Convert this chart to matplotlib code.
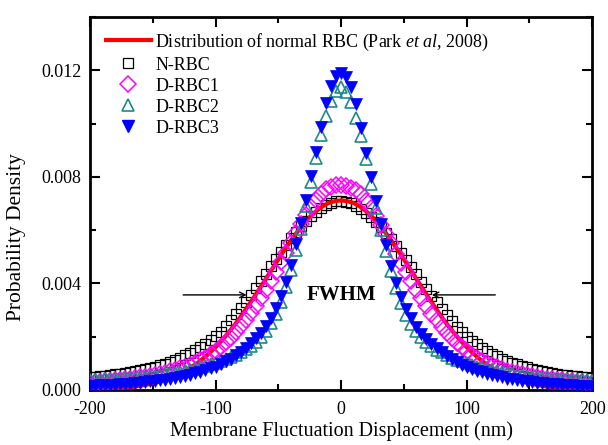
import numpy as np
import matplotlib.pyplot as plt
from matplotlib.ticker import MultipleLocator, FormatStrFormatter
from matplotlib.lines import Line2D

plt.rcParams['font.family'] = ['Liberation Serif', 'DejaVu Serif']
plt.rcParams['mathtext.fontset'] = 'custom'
plt.rcParams['mathtext.rm'] = 'Liberation Serif'
plt.rcParams['mathtext.it'] = 'Liberation Serif:italic'
plt.rcParams['axes.unicode_minus'] = False

# measured points, 4 nm bins from -200 to 200
x_pts = np.arange(-200, 201, 4)

n_rbc = [0.00048, 0.00050, 0.00052, 0.00054, 0.00056, 0.00059, 0.00061, 0.00064, 0.00067, 0.00070,
         0.00074, 0.00078, 0.00083, 0.00088, 0.00093, 0.00099, 0.00106, 0.00113, 0.00121, 0.00130,
         0.00140, 0.00151, 0.00162, 0.00174, 0.00187, 0.00201, 0.00219, 0.00241, 0.00263, 0.00285,
         0.00308, 0.00332, 0.00357, 0.00383, 0.00410, 0.00437, 0.00464, 0.00491, 0.00518, 0.00544,
         0.00569, 0.00592, 0.00614, 0.00634, 0.00653, 0.00669, 0.00684, 0.00695, 0.00703, 0.00708,
         0.00710,
         0.00707, 0.00701, 0.00692, 0.00681, 0.00666, 0.00650, 0.00631, 0.00611, 0.00589, 0.00566,
         0.00541, 0.00515, 0.00488, 0.00461, 0.00434, 0.00407, 0.00380, 0.00354, 0.00329, 0.00305,
         0.00282, 0.00260, 0.00238, 0.00217, 0.00199, 0.00184, 0.00171, 0.00159, 0.00148, 0.00137,
         0.00127, 0.00118, 0.00110, 0.00103, 0.00096, 0.00090, 0.00085, 0.00080, 0.00075, 0.00071,
         0.00067, 0.00064, 0.00061, 0.00058, 0.00056, 0.00053, 0.00051, 0.00049, 0.00047, 0.00045]

d_rbc1 = [0.00028, 0.00029, 0.00031, 0.00032, 0.00034, 0.00036, 0.00038, 0.00040, 0.00042, 0.00044,
          0.00047, 0.00050, 0.00053, 0.00057, 0.00061, 0.00065, 0.00070, 0.00075, 0.00081, 0.00088,
          0.00095, 0.00103, 0.00112, 0.00122, 0.00134, 0.00147, 0.00162, 0.00179, 0.00197, 0.00217,
          0.00239, 0.00263, 0.00289, 0.00317, 0.00346, 0.00377, 0.00410, 0.00444, 0.00479, 0.00514,
          0.00553, 0.00588, 0.00623, 0.00656, 0.00686, 0.00713, 0.00736, 0.00753, 0.00763, 0.00768,
          0.00771,
          0.00767, 0.00759, 0.00751, 0.00734, 0.00711, 0.00684, 0.00654, 0.00621, 0.00586, 0.00551,
          0.00512, 0.00477, 0.00442, 0.00408, 0.00375, 0.00344, 0.00315, 0.00287, 0.00261, 0.00237,
          0.00215, 0.00195, 0.00177, 0.00160, 0.00145, 0.00132, 0.00120, 0.00110, 0.00101, 0.00093,
          0.00086, 0.00079, 0.00073, 0.00068, 0.00063, 0.00059, 0.00055, 0.00051, 0.00048, 0.00045,
          0.00042, 0.00040, 0.00038, 0.00036, 0.00034, 0.00032, 0.00031, 0.00029, 0.00028, 0.00027]

d_rbc2 = [0.00037, 0.00038, 0.00039, 0.00040, 0.00041, 0.00042, 0.00043, 0.00044, 0.00045, 0.00046,
          0.00048, 0.00050, 0.00052, 0.00054, 0.00056, 0.00059, 0.00062, 0.00065, 0.00068, 0.00072,
          0.00076, 0.00080, 0.00085, 0.00090, 0.00096, 0.00102, 0.00109, 0.00116, 0.00124, 0.00133,
          0.00143, 0.00154, 0.00167, 0.00182, 0.00200, 0.00223, 0.00251, 0.00287, 0.00332, 0.00387,
          0.00452, 0.00525, 0.00605, 0.00690, 0.00780, 0.00872, 0.00957, 0.01028, 0.01085, 0.01122,
          0.01138,
          0.01118, 0.01080, 0.01022, 0.00952, 0.00867, 0.00775, 0.00685, 0.00600, 0.00520, 0.00448,
          0.00383, 0.00328, 0.00283, 0.00248, 0.00220, 0.00198, 0.00180, 0.00165, 0.00152, 0.00141,
          0.00131, 0.00122, 0.00114, 0.00107, 0.00100, 0.00094, 0.00088, 0.00083, 0.00078, 0.00074,
          0.00070, 0.00066, 0.00063, 0.00060, 0.00057, 0.00055, 0.00052, 0.00050, 0.00048, 0.00046,
          0.00045, 0.00043, 0.00042, 0.00041, 0.00040, 0.00039, 0.00038, 0.00037, 0.00036, 0.00035]

d_rbc3 = [0.00015, 0.00016, 0.00017, 0.00018, 0.00019, 0.00020, 0.00021, 0.00022, 0.00024, 0.00026,
          0.00028, 0.00030, 0.00032, 0.00034, 0.00036, 0.00039, 0.00042, 0.00045, 0.00049, 0.00053,
          0.00057, 0.00062, 0.00068, 0.00074, 0.00081, 0.00088, 0.00097, 0.00107, 0.00118, 0.00130,
          0.00144, 0.00159, 0.00176, 0.00194, 0.00214, 0.00240, 0.00271, 0.00308, 0.00352, 0.00405,
          0.00470, 0.00547, 0.00627, 0.00712, 0.00802, 0.00895, 0.00987, 0.01077, 0.01142, 0.01180,
          0.01190,
          0.01176, 0.01138, 0.01073, 0.00983, 0.00891, 0.00798, 0.00708, 0.00623, 0.00543, 0.00466,
          0.00401, 0.00348, 0.00305, 0.00269, 0.00238, 0.00212, 0.00192, 0.00174, 0.00157, 0.00142,
          0.00128, 0.00116, 0.00105, 0.00095, 0.00086, 0.00079, 0.00072, 0.00066, 0.00060, 0.00055,
          0.00051, 0.00047, 0.00043, 0.00040, 0.00037, 0.00034, 0.00032, 0.00030, 0.00028, 0.00026,
          0.00024, 0.00022, 0.00021, 0.00019, 0.00018, 0.00017, 0.00016, 0.00015, 0.00014, 0.00013]

# Park et al 2008 normal RBC distribution, 5 nm steps
x_park = np.arange(-200, 201, 5)
park = [0.00002, 0.00002, 0.00003, 0.00004, 0.00006, 0.00007, 0.00010, 0.00012, 0.00016, 0.00020,
        0.00025, 0.00031, 0.00039, 0.00047, 0.00058, 0.00070, 0.00084, 0.00099, 0.00118, 0.00138,
        0.00161, 0.00186, 0.00214, 0.00243, 0.00275, 0.00309, 0.00344, 0.00380, 0.00417, 0.00454,
        0.00491, 0.00527, 0.00561, 0.00593, 0.00623, 0.00649, 0.00671, 0.00689, 0.00702, 0.00709,
        0.00712,
        0.00709, 0.00702, 0.00689, 0.00671, 0.00649, 0.00623, 0.00593, 0.00561, 0.00527, 0.00491,
        0.00454, 0.00417, 0.00380, 0.00344, 0.00309, 0.00275, 0.00243, 0.00214, 0.00186, 0.00161,
        0.00138, 0.00118, 0.00099, 0.00084, 0.00070, 0.00058, 0.00047, 0.00039, 0.00031, 0.00025,
        0.00020, 0.00016, 0.00012, 0.00010, 0.00007, 0.00006, 0.00004, 0.00003, 0.00002, 0.00002]

teal = '#1F8A8A'

fig = plt.figure(figsize=(6.08, 4.45), dpi=100)
ax = fig.add_axes([0.148, 0.1236, 0.826, 0.838])

ax.plot(x_pts, n_rbc, 's', ms=7.5, mfc='none', mec='black', mew=0.9, zorder=2)
ax.plot(x_park, park, '-', color='red', lw=3, zorder=3)
ax.plot(x_pts, d_rbc1, 'D', ms=8, mfc='none', mec='#FF00FF', mew=1.1, zorder=4)
ax.plot(x_pts, d_rbc2, '^', ms=9, mfc='none', mec=teal, mew=1.2, zorder=5)
ax.plot(x_pts, d_rbc3, 'v', ms=8.5, mfc='blue', mec='blue', mew=0.5, zorder=6)

handles = [Line2D([], [], color='red', lw=3),
           Line2D([], [], ls='none', marker='s', ms=7.5, mfc='none', mec='black', mew=0.9),
           Line2D([], [], ls='none', marker='D', ms=8, mfc='none', mec='#FF00FF', mew=1.1),
           Line2D([], [], ls='none', marker='^', ms=9, mfc='none', mec=teal, mew=1.2),
           Line2D([], [], ls='none', marker='v', ms=8.5, mfc='blue', mec='blue')]
labels = ['Distribution of normal RBC (Park $\\mathit{et\\ al}$, 2008)',
          'N-RBC', 'D-RBC1', 'D-RBC2', 'D-RBC3']
ax.legend(handles, labels, loc='upper left', bbox_to_anchor=(0.01, 0.99), frameon=False,
          fontsize=13, handlelength=2.5, handletextpad=0.25, labelspacing=0.22,
          borderaxespad=0.2)

ax.annotate('', xy=(-73, 0.00357), xytext=(-128, 0.00357),
            arrowprops=dict(arrowstyle='->', color='black', lw=1))
ax.annotate('', xy=(70, 0.00357), xytext=(125, 0.00357),
            arrowprops=dict(arrowstyle='->', color='black', lw=1))
ax.text(0, 0.00357, 'FWHM', fontsize=15, fontweight='bold', ha='center', va='center', zorder=7)

ax.set_xlim(-200, 200)
ax.set_ylim(0, 0.014)
ax.xaxis.set_major_locator(MultipleLocator(100))
ax.xaxis.set_minor_locator(MultipleLocator(50))
ax.yaxis.set_major_locator(MultipleLocator(0.004))
ax.yaxis.set_minor_locator(MultipleLocator(0.002))
ax.yaxis.set_major_formatter(FormatStrFormatter('%.3f'))
ax.tick_params(which='both', direction='in', top=True, right=True, width=1.5)
ax.tick_params(which='major', length=7, labelsize=13)
ax.tick_params(which='minor', length=4)
ax.tick_params(axis='x', which='major', pad=8)
ax.tick_params(axis='y', which='major', pad=6)
for s in ax.spines.values():
    s.set_linewidth(2)

ax.set_xlabel('Membrane Fluctuation Displacement (nm)', fontsize=14.5, labelpad=2)
ax.set_ylabel('Probability Density', fontsize=15.5)
ax.yaxis.set_label_coords(-0.128, 0.41)

fig.savefig('out.png', dpi=100)
